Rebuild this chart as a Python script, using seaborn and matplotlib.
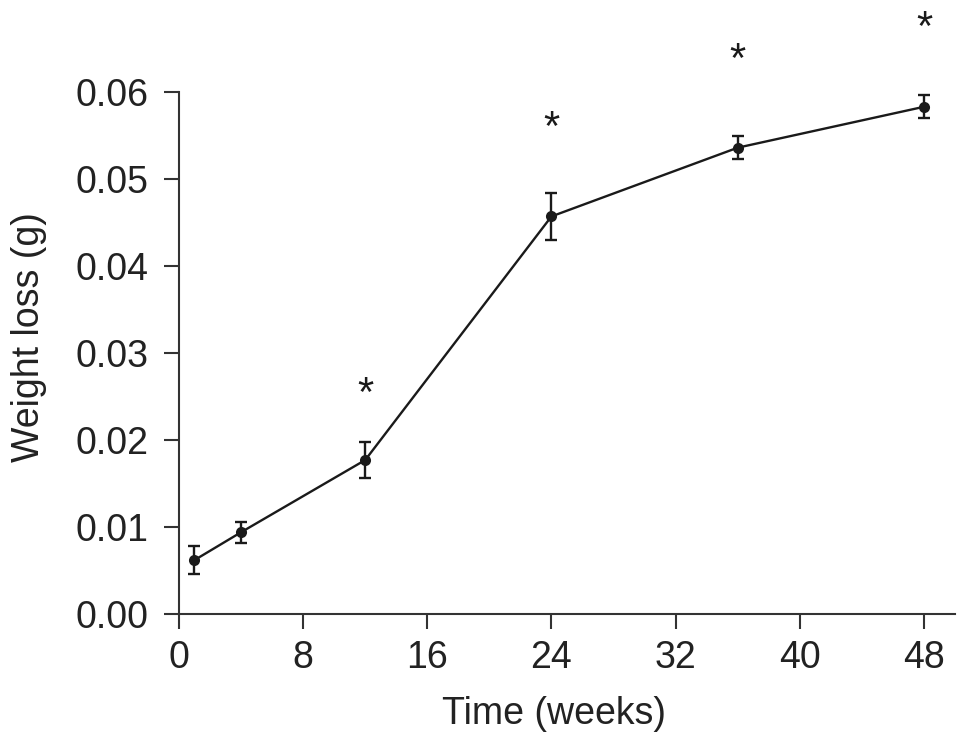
import pandas as pd
import seaborn as sns
import matplotlib.pyplot as plt

# data
weeks = [1, 4, 12, 24, 36, 48]
weight_loss = [0.0062, 0.0094, 0.0177, 0.0457, 0.0536, 0.0583]
sd = [0.0016, 0.0012, 0.0021, 0.0027, 0.0013, 0.0013]
# weeks marked significant and the height of each asterisk
sig_weeks = [12, 24, 36, 48]
sig_y = [0.0252, 0.0558, 0.0636, 0.0672]

x_ticks = [0, 8, 16, 24, 32, 40, 48]
y_ticks = [0.00, 0.01, 0.02, 0.03, 0.04, 0.05, 0.06]

df = pd.DataFrame({'Time': weeks, 'Weight loss': weight_loss, 'sd': sd})

sns.set_style('ticks')
plt.rcParams['font.family'] = ['Liberation Sans', 'DejaVu Sans']

fig = plt.figure(figsize=(9.69, 7.45), dpi=100)
ax = fig.add_axes([0.1847, 0.1758, 0.8008, 0.7007])

ax.errorbar(df['Time'], df['Weight loss'], yerr=df['sd'], fmt='none',
            ecolor='#1a1a1a', elinewidth=1.7, capsize=4, capthick=1.7, zorder=2)
sns.lineplot(data=df, x='Time', y='Weight loss', ax=ax, color='#1a1a1a',
             linewidth=1.7, marker='o', markersize=8, markeredgewidth=0, zorder=3)

for wx, wy in zip(sig_weeks, sig_y):
    ax.text(wx, wy, '*', ha='center', va='center', fontsize=30,
            color='#1a1a1a', clip_on=False)

ax.set_xlim(0, 50)
ax.set_ylim(0, 0.06)
ax.set_xticks(x_ticks)
ax.set_yticks(y_ticks)
ax.set_yticklabels([f'{v:.2f}' for v in y_ticks])
ax.tick_params(direction='out', length=11, width=1.5, labelsize=27,
               color='#333333', labelcolor='#222222')
ax.tick_params(axis='x', pad=8)
ax.tick_params(axis='y', pad=11)
for s in ['top', 'right']:
    ax.spines[s].set_visible(False)
for s in ['left', 'bottom']:
    ax.spines[s].set_linewidth(1.5)
    ax.spines[s].set_color('#333333')

ax.set_xlabel('Time (weeks)', fontsize=27, color='#222222')
ax.xaxis.set_label_coords(0.483, -0.157)
ax.set_ylabel('Weight loss (g)', fontsize=27, color='#222222')
ax.yaxis.set_label_coords(-0.170, 0.53)

fig.savefig('out.png', dpi=100)
